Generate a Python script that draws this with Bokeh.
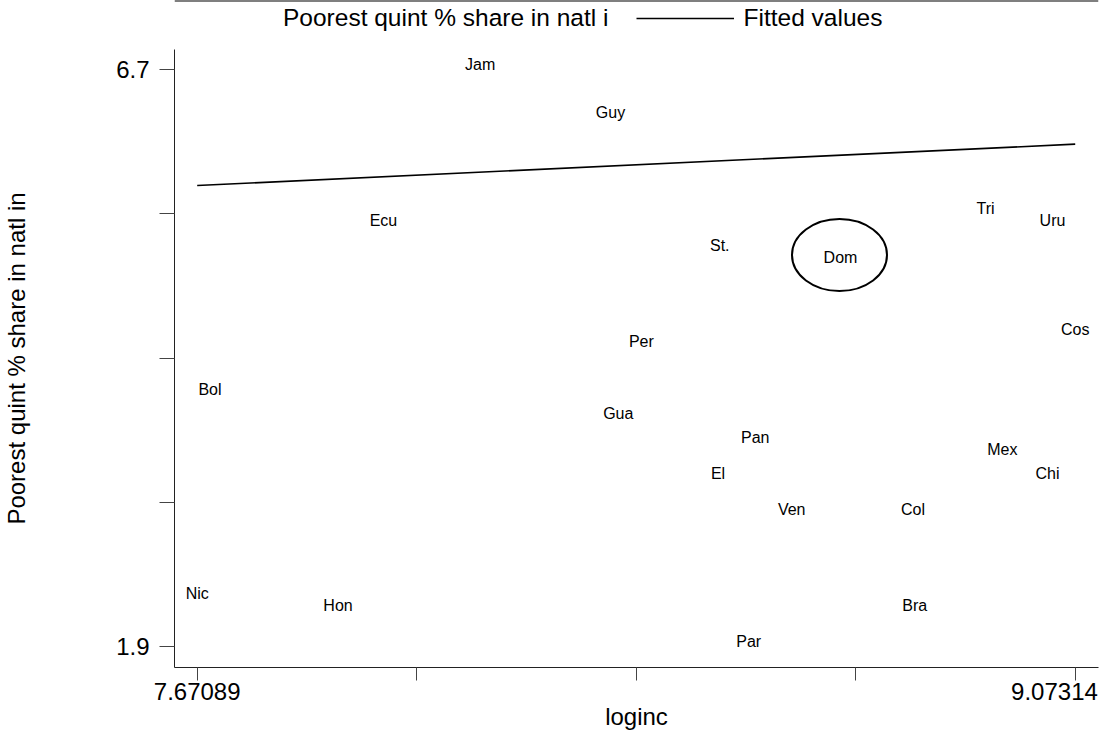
from bokeh.plotting import figure
from bokeh.models import FixedTicker, Legend, LegendItem, ColumnDataSource, Span
from bokeh.layouts import column
from bokeh.core.properties import value
from bokeh.embed import file_html
from bokeh.resources import INLINE
import numpy as np

# ---- data ----
countries = ["Jam", "Guy", "Ecu", "St.", "Dom", "Tri", "Uru", "Cos", "Per", "Bol", "Gua",
             "Pan", "Mex", "El", "Chi", "Ven", "Col", "Nic", "Hon", "Bra", "Par"]
loginc = [8.1229, 8.3310, 7.9684, 8.5055, 8.6983, 8.9299, 9.0369, 9.07314, 8.3802, 7.6913, 8.3434,
          8.5621, 8.9567, 8.5027, 9.0289, 8.6204, 8.8141, 7.67089, 7.8958, 8.8168, 8.5517]
poorest_share = [6.7, 6.3, 5.4, 5.2, 5.1, 5.5, 5.4, 4.5, 4.4, 4.0, 3.8,
                 3.6, 3.5, 3.3, 3.3, 3.0, 3.0, 2.3, 2.2, 2.2, 1.9]
fit_x = [7.67089, 9.07314]
fit_y = [5.737, 6.081]
highlight = "Dom"
series_labels = ["Poorest quint % share in natl i", "Fitted values"]
x_title = "loginc"
y_title = "Poorest quint % share in natl in"
x_tick_ends = [7.67089, 9.07314]
x_tick_labels = ["7.67089", "", "", "", "9.07314"]
y_ticks = [1.9, 3.1, 4.3, 5.5, 6.7]
y_tick_labels = ["1.9", "", "", "", "6.7"]

FONT = "Liberation Sans"

# ---- geometry ----
W = 1104
H_TOP = 49           # legend strip
H_MAIN = 685
B_LEFT, B_RIGHT, B_TOP, B_BOTTOM = 174, 6, 0, 67
frame_w = W - B_LEFT - B_RIGHT
frame_h = H_MAIN - B_TOP - B_BOTTOM
pad_l, pad_r, pad_t, pad_b = 22.7, 23.3, 20.3, 21.0
xmin, xmax = x_tick_ends
ymin, ymax = min(y_ticks), max(y_ticks)
xs = (xmax - xmin) / (frame_w - pad_l - pad_r)
ys = (ymax - ymin) / (frame_h - pad_t - pad_b)
x_range = (xmin - pad_l * xs, xmax + pad_r * xs)
y_range = (ymin - pad_b * ys, ymax + pad_t * ys)

# ---- main plot ----
p = figure(width=W, height=H_MAIN, x_range=x_range, y_range=y_range,
           output_backend="svg", toolbar_location=None,
           min_border_left=B_LEFT, min_border_right=B_RIGHT,
           min_border_top=B_TOP, min_border_bottom=B_BOTTOM)
p.outline_line_color = None
p.xgrid.visible = False
p.ygrid.visible = False
p.background_fill_color = "white"
p.border_fill_color = "white"

src = ColumnDataSource(dict(x=loginc, y=poorest_share, name=countries))
p.text(x="x", y="y", text="name", source=src, text_align="center",
       text_baseline="middle", y_offset=-5, text_font=value(FONT),
       text_font_size="16px", text_color="black")
p.line(fit_x, fit_y, line_color="black", line_width=1.6)

i = countries.index(highlight)
p.ellipse(x=[loginc[i] - 1 * xs], y=[poorest_share[i] + 7 * ys], width=95, height=72,
          width_units="screen", height_units="screen",
          fill_color=None, line_color="black", line_width=2)

xt = list(np.linspace(xmin, xmax, 5))
p.xaxis.ticker = FixedTicker(ticks=xt)
labs = list(x_tick_labels)
labs[-1] = labs[-1] + "\u00a0"
p.xaxis.major_label_overrides = {t: l for t, l in zip(xt, labs)}
p.yaxis.ticker = FixedTicker(ticks=y_ticks)
p.yaxis.major_label_overrides = {t: l for t, l in zip(y_ticks, y_tick_labels)}

for ax in (p.xaxis[0], p.yaxis[0]):
    ax.axis_line_color = "#222222"
    ax.axis_line_width = 1
    ax.major_tick_line_color = "#444444"
    ax.major_tick_in = 0
    ax.minor_tick_out = 0
    ax.minor_tick_in = 0
    ax.major_label_text_font = FONT
    ax.major_label_text_font_size = "24px"
    ax.major_label_text_color = "black"
    ax.axis_label_text_font = FONT
    ax.axis_label_text_font_size = "24px"
    ax.axis_label_text_font_style = "normal"
    ax.axis_label_text_color = "black"

p.xaxis.axis_label = x_title
p.xaxis.major_tick_out = 13
p.xaxis.major_label_standoff = -3
p.xaxis.axis_label_standoff = -5

p.yaxis.axis_label = y_title
p.yaxis.major_tick_out = 15
p.yaxis.major_label_standoff = 10
p.yaxis.axis_label_standoff = 83

# ---- legend strip (separate small figure, data kept out of view) ----
lg = figure(width=W, height=H_TOP, x_range=(0, 1), y_range=(0, 1),
            x_axis_type=None, y_axis_type=None,
            output_backend="svg", toolbar_location=None,
            min_border=0, min_border_left=0, min_border_right=0,
            min_border_top=0, min_border_bottom=0)
lg.outline_line_color = None
lg.xgrid.visible = False
lg.ygrid.visible = False
lg.background_fill_color = "white"
lg.border_fill_color = "white"
lg_text = lg.text(x=loginc, y=poorest_share, text=countries, text_alpha=0)
lg_line = lg.line(fit_x, fit_y, line_color="black", line_width=1.6)
lg.add_layout(Span(location=1, dimension="width", line_color="black", line_width=2))

legend = Legend(items=[LegendItem(label=series_labels[0], renderers=[lg_text]),
                       LegendItem(label=series_labels[1], renderers=[lg_line])],
                orientation="horizontal", location=(1, 17),
                glyph_width=98, glyph_height=20, label_standoff=10, spacing=27,
                padding=0, margin=0, border_line_color=None, background_fill_alpha=0,
                label_text_font=FONT, label_text_font_size="24.5px", label_text_color="black")
lg.add_layout(legend, "center")

layout = column(lg, p, spacing=0)
open("out.html", "w").write(file_html(layout, INLINE))
